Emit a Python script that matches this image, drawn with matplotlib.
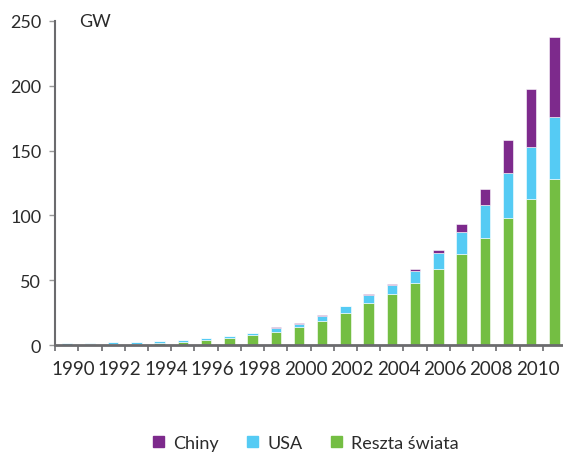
import numpy as np
import matplotlib.pyplot as plt
from matplotlib.patches import Patch

plt.rcParams['font.family'] = ['Lato', 'DejaVu Sans']

# Data (GW)
years = list(range(1990, 2012))
reszta = [0.4, 0.5, 0.8, 0.9, 1.5, 2.3, 3.9, 5.4, 8.0, 10.3, 14.1, 18.8,
          24.9, 32.2, 39.4, 48.1, 58.9, 70.0, 82.8, 97.7, 112.9, 128.3]
usa = [1.1, 1.0, 1.5, 1.4, 1.6, 1.6, 1.5, 1.5, 1.5, 3.1, 2.4, 3.8,
       4.9, 6.4, 7.1, 9.0, 12.1, 17.2, 25.2, 34.9, 40.0, 47.4]
chiny = [0.0, 0.0, 0.0, 0.0, 0.0, 0.0, 0.0, 0.1, 0.2, 0.2, 0.3, 0.6,
         0.5, 0.8, 0.8, 1.3, 2.6, 5.9, 12.0, 25.8, 44.7, 62.2]
yticks = [0, 50, 100, 150, 200, 250]

C_GREEN = "#74be43"
C_BLUE = "#55cbf4"
C_PURPLE = "#7d2a8c"
AXIS = "#6b6b6e"
TEXT = "#2b2b2b"

fig = plt.figure(figsize=(5.63, 4.56), dpi=100)
ax = fig.add_axes([0.098, 0.241, 0.902, 0.711])

x = np.arange(len(years))
w = 0.45
edge = dict(edgecolor="#ffffff", linewidth=0.4)
ax.bar(x, reszta, w, color=C_GREEN, **edge)
ax.bar(x, usa, w, bottom=reszta, color=C_BLUE, **edge)
ax.bar(x, chiny, w, bottom=np.array(reszta) + np.array(usa), color=C_PURPLE, **edge)

ax.set_xlim(-0.5, 21.37)
ax.set_ylim(0, 250)
ax.set_yticks(yticks)
ax.set_yticklabels([str(v) for v in yticks], fontsize=13, color=TEXT)

# tick marks at category boundaries, labels every second year
ax.set_xticks(np.arange(-0.5, 21.5, 1.0))
ax.set_xticklabels([])
ax.tick_params(axis="x", length=4, width=1.2, color=AXIS, direction="out")
for i, yr in enumerate(years):
    if yr % 2 == 0:
        ax.text(i + 0.28, -11.5, str(yr), ha="center", va="top", fontsize=13.5,
                color=TEXT, transform=ax.transData, clip_on=False)

ax.tick_params(axis="y", length=4, width=1.0, color="#9a9a9a", pad=6)

for s in ["top", "right"]:
    ax.spines[s].set_visible(False)
ax.spines["left"].set_color(AXIS)
ax.spines["left"].set_linewidth(1.5)
ax.spines["bottom"].set_color(AXIS)
ax.spines["bottom"].set_linewidth(2)

ax.text(0.55, 250, "GW", ha="left", va="center", fontsize=13, color=TEXT)

handles = [Patch(color=C_PURPLE), Patch(color=C_BLUE), Patch(color=C_GREEN)]
fig.legend(handles, ["Chiny", "USA", "Reszta świata"], loc="center",
           bbox_to_anchor=(0.543, 0.027), ncol=3, frameon=False, fontsize=13,
           handlelength=0.6, handleheight=0.6, handletextpad=0.5,
           columnspacing=1.6, labelcolor=TEXT)

fig.savefig("out.png", dpi=100)
